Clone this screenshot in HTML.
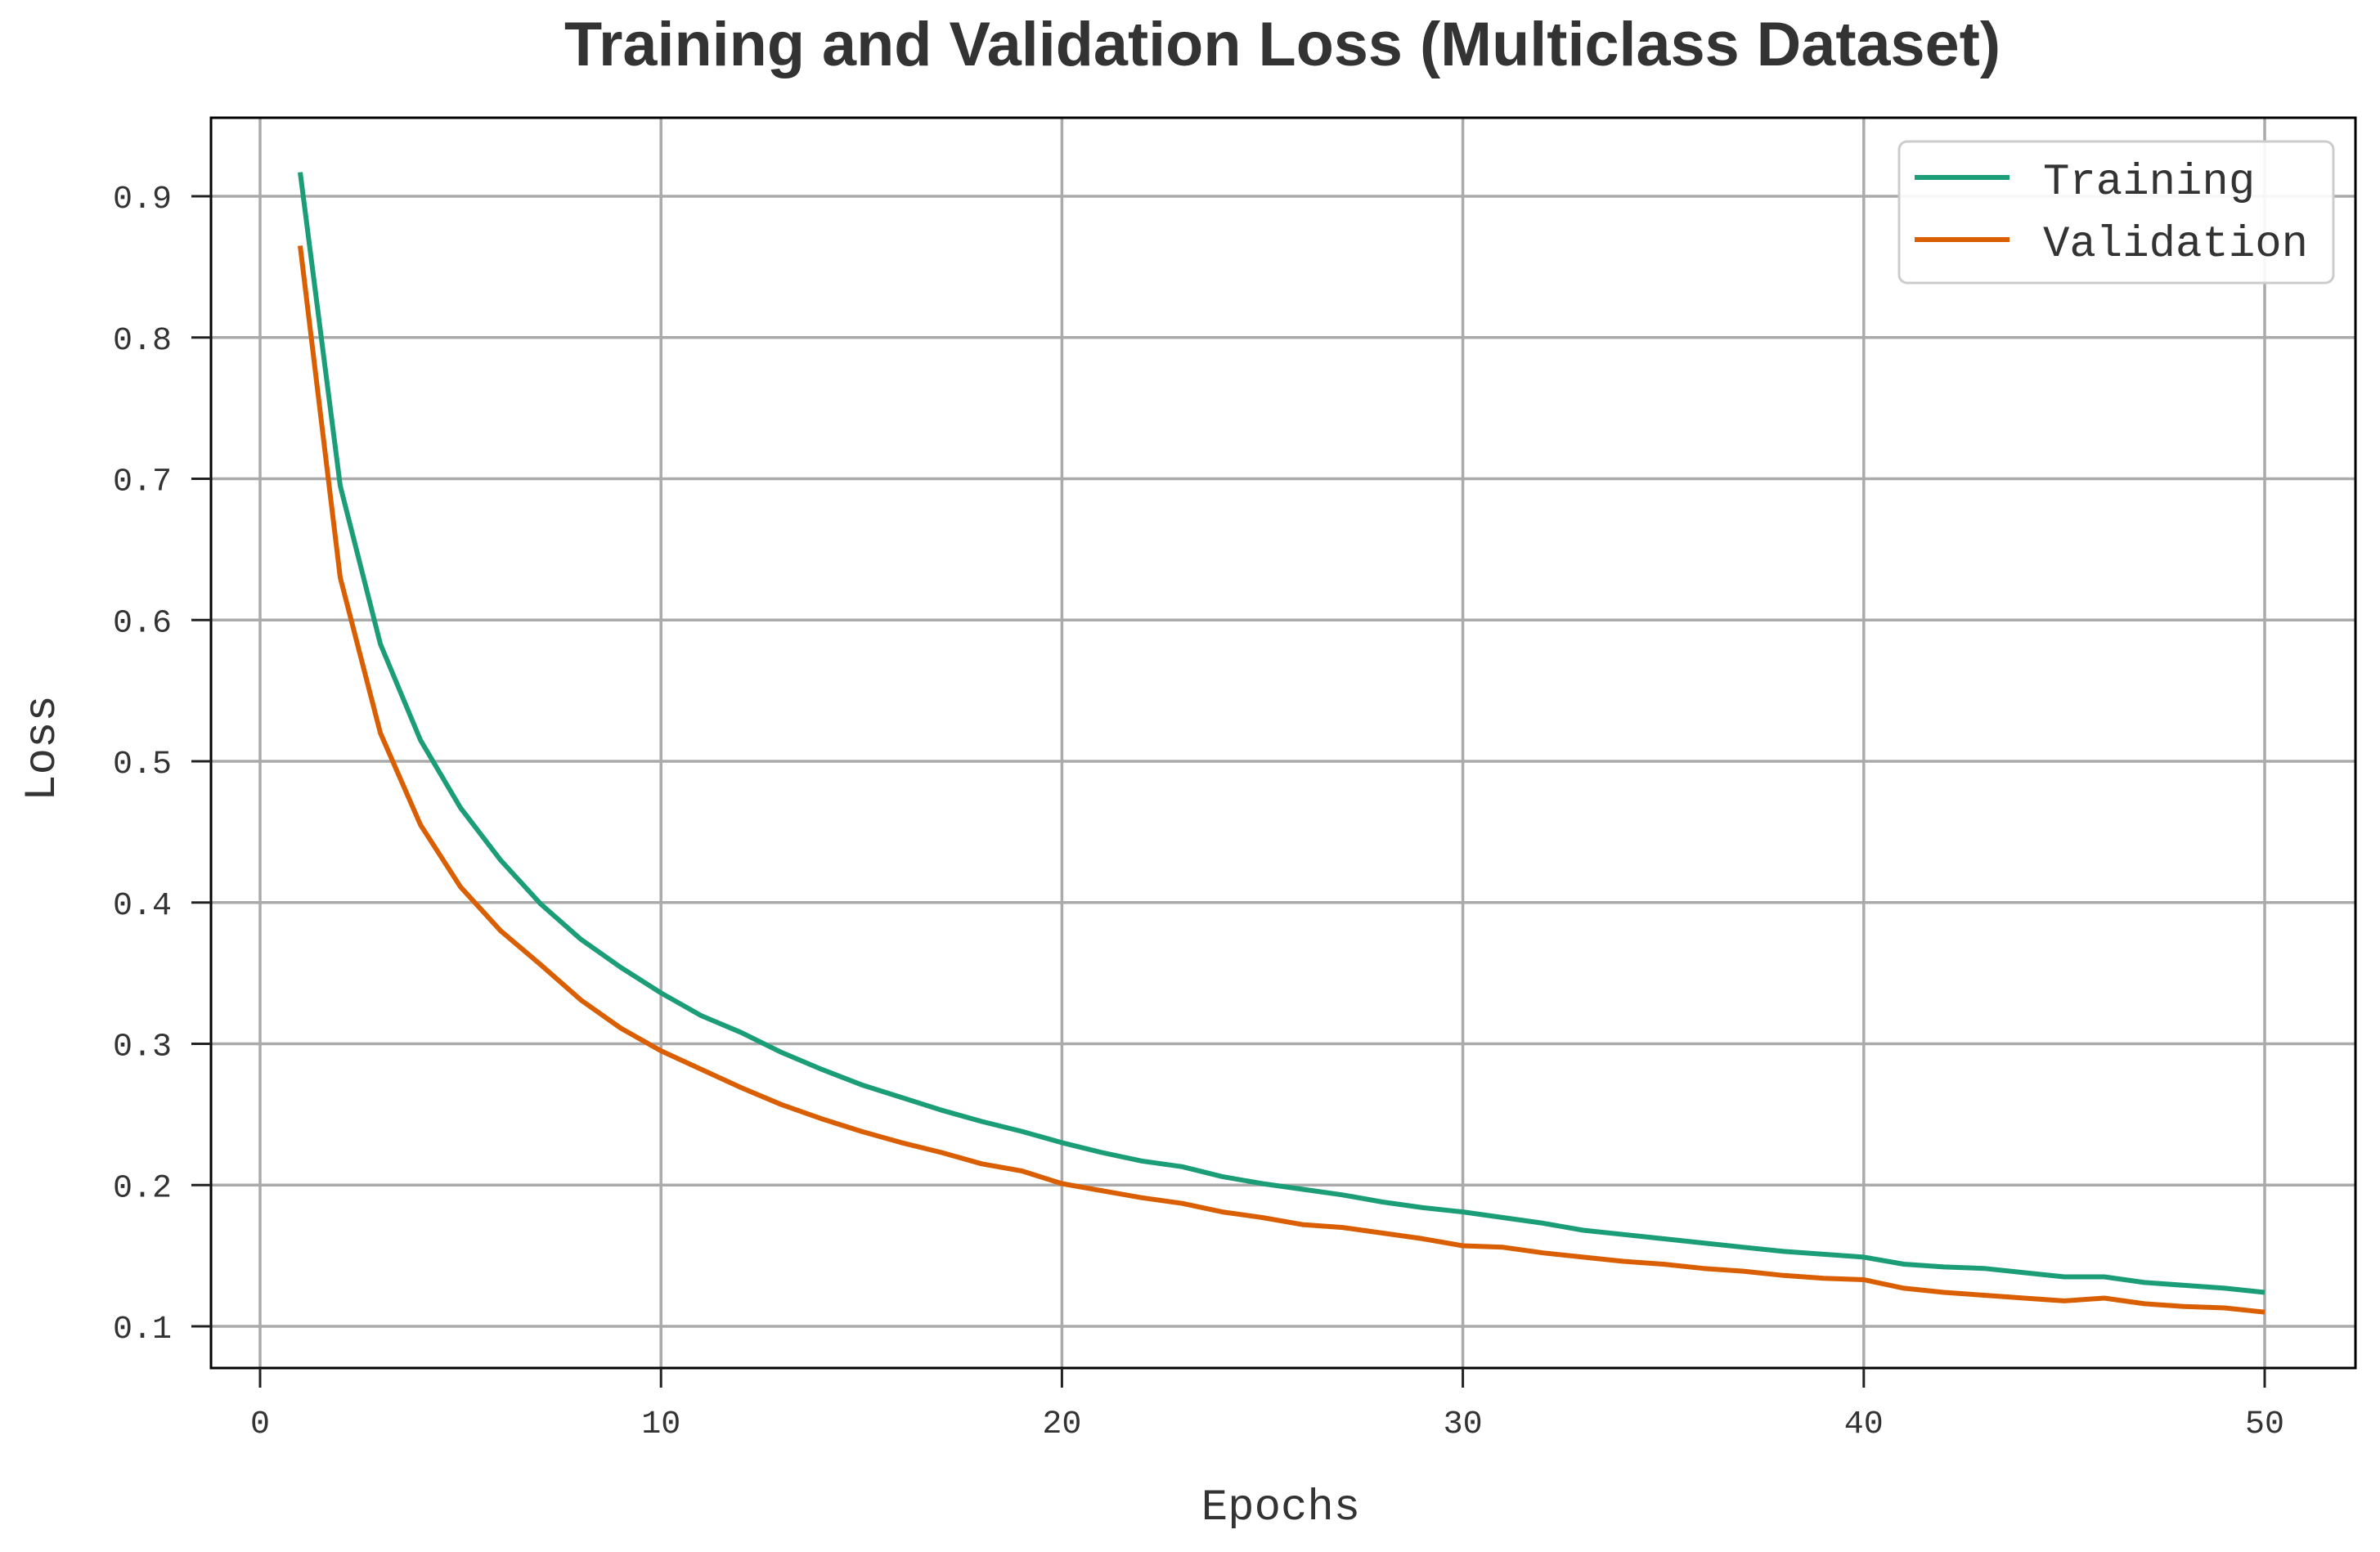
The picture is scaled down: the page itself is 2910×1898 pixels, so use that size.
<!DOCTYPE html>
<html><head><meta charset="utf-8"><style>
html,body{margin:0;padding:0;background:#fff;}
svg{display:block;}
.mono{font-family:"Liberation Mono","DejaVu Sans Mono",monospace;fill:#333;}
</style></head><body>
<svg id="chart" width="2910" height="1898" viewBox="0 0 2910 1898" xmlns="http://www.w3.org/2000/svg">
<text x="1568" y="80" text-anchor="middle" font-family="Liberation Sans, sans-serif" font-weight="bold" font-size="76" fill="#333" textLength="1756" lengthAdjust="spacingAndGlyphs">Training and Validation Loss (Multiclass Dataset)</text>
<g id="grid"></g>
<g id="series"></g>
<rect x="258" y="144" width="2622" height="1529" fill="none" stroke="#000" stroke-width="3"/>
<g id="ticks"></g>
<text x="1566" y="1858" text-anchor="middle" class="mono" font-size="54">Epochs</text>
<text transform="translate(66,915) rotate(-90)" text-anchor="middle" class="mono" font-size="54">Loss</text>
<g>
<rect x="2322" y="173" width="531" height="173" rx="10" fill="#fff" fill-opacity="0.9" stroke="#ccc" stroke-width="3"/>
<line x1="2341" y1="217" x2="2457" y2="217" stroke="#1b9e77" stroke-width="6"/>
<text x="2498" y="237" class="mono" font-size="54">Training</text>
<line x1="2341" y1="293" x2="2457" y2="293" stroke="#d95f02" stroke-width="6"/>
<text x="2498" y="313" class="mono" font-size="54">Validation</text>
</g>
</svg>
<script>
const epochs = Array.from({length:50},(_, i)=>i+1);
const trainingLoss = [0.917,0.695,0.583,0.515,0.467,0.430,0.399,0.374,0.354,0.336,
0.320,0.308,0.294,0.282,0.271,0.262,0.253,0.245,0.238,0.230,
0.223,0.217,0.213,0.206,0.201,0.197,0.193,0.188,0.184,0.181,
0.177,0.173,0.168,0.165,0.162,0.159,0.156,0.153,0.151,0.149,
0.144,0.142,0.141,0.138,0.135,0.135,0.131,0.129,0.127,0.124];
const validationLoss = [0.865,0.630,0.520,0.455,0.411,0.380,0.356,0.331,0.311,0.295,
0.282,0.269,0.257,0.247,0.238,0.230,0.223,0.215,0.210,0.201,
0.196,0.191,0.187,0.181,0.177,0.172,0.170,0.166,0.162,0.157,
0.156,0.152,0.149,0.146,0.144,0.141,0.139,0.136,0.134,0.133,
0.127,0.124,0.122,0.120,0.118,0.120,0.116,0.114,0.113,0.110];
const xTicks = [0,10,20,30,40,50];
const yTicks = [0.1,0.2,0.3,0.4,0.5,0.6,0.7,0.8,0.9];
const yTickLabels = ["0.1","0.2","0.3","0.4","0.5","0.6","0.7","0.8","0.9"];

const NS="http://www.w3.org/2000/svg";
const X0=258,X1=2880,Y0=144,Y1=1673;
function xs(v){return 318 + v*(2769-318)/50;}
function ys(v){return 240 + (0.9-v)*1727.5;}
function mk(tag,attrs,parent){const e=document.createElementNS(NS,tag);for(const k in attrs)e.setAttribute(k,attrs[k]);parent.appendChild(e);return e;}
const grid=document.getElementById('grid'),ticks=document.getElementById('ticks'),series=document.getElementById('series');
xTicks.forEach(t=>{
  const g=mk('line',{x1:xs(t),x2:xs(t),y1:Y0,y2:Y1,stroke:'#aaa','stroke-width':3.5},grid);
  
  
  const tk=mk('line',{x1:xs(t),x2:xs(t),y1:Y1,y2:Y1+24,stroke:'#222','stroke-width':3},ticks);
  
  
  const lb=mk('text',{x:xs(t),y:1752,'text-anchor':'middle','class':'mono','font-size':40},ticks);
  lb.textContent=String(t);
  
  
});
yTicks.forEach((t,i)=>{
  const g=mk('line',{x1:X0,x2:X1,y1:ys(t),y2:ys(t),stroke:'#aaa','stroke-width':3.5},grid);
  
  
  const tk=mk('line',{x1:X0-24,x2:X0,y1:ys(t),y2:ys(t),stroke:'#222','stroke-width':3},ticks);
  
  
  const lb=mk('text',{x:210,y:ys(t)+14,'text-anchor':'end','class':'mono','font-size':40},ticks);
  lb.textContent=yTickLabels[i];
  
  
});
function line(vals,color,name){
  const d=vals.map((v,i)=>(i?'L':'M')+xs(epochs[i]).toFixed(1)+','+ys(v).toFixed(1)).join(' ');
  const p=mk('path',{d:d,fill:'none',stroke:color,'stroke-width':6,'stroke-linejoin':'round'},series);
  
  
}
line(trainingLoss,'#1b9e77','training-loss-line');
line(validationLoss,'#d95f02','validation-loss-line');
</script>
</body></html>
